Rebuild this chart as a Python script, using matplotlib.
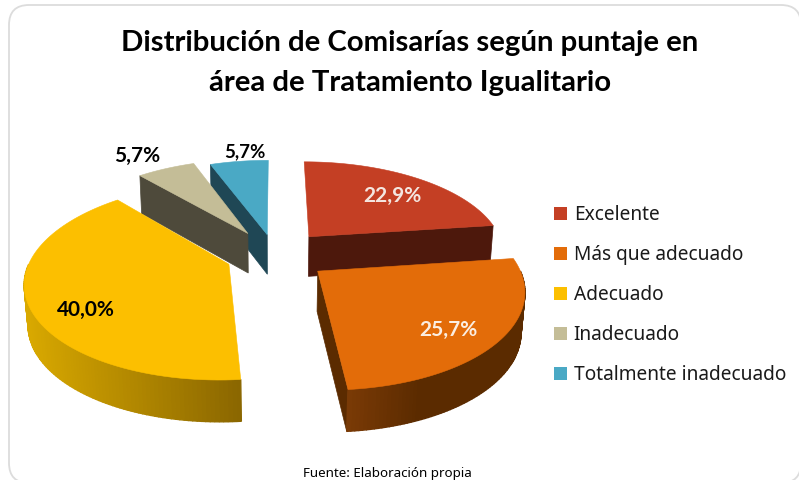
import numpy as np
import matplotlib
matplotlib.use('Agg')
import matplotlib.pyplot as plt
from matplotlib.patches import Patch, FancyBboxPatch

categories = ['Excelente', 'Más que adecuado', 'Adecuado', 'Inadecuado', 'Totalmente inadecuado']
values = [22.9, 25.7, 40.0, 5.7, 5.7]
value_labels = ['22,9%', '25,7%', '40,0%', '5,7%', '5,7%']
title = 'Distribución de Comisarías según puntaje en\nárea de Tratamiento Igualitario'
source = 'Fuente: Elaboración propia'

top_colors = ['#c43f24', '#e36c09', '#fcbf00', '#c4bd97', '#4aa9c5']
cut_colors = ['#4d180c', '#5b2b00', '#8a6600', '#4e4a3b', '#1f4755']
side_left = ['#4d180c', '#7a3a06', '#d9a900', '#4e4a3b', '#1f4755']
side_right = ['#4d180c', '#5b2b00', '#8a6600', '#4e4a3b', '#1f4755']
label_colors = ['#f4e6e0', '#fbeee2', 'black', 'black', 'black']
explode = [0.27, 0.27, 0.25, 0.28, 0.23]
label_r = [0.70, 0.78, 0.78, 1.27, 1.14]
label_da = [3, 5, -11, -3, 3]
label_size = [15, 15, 15, 15, 13.5]

# view of the pie, in pixels
cx, cy = 275, 255
R, Rk, p, H, q = 197, 93, 0.167, 40, 0.015


def project(X, Y, z=0.0):
    d = 1 + p * Y + q * z
    return cx + R * X / d, cy - Rk * Y / d + H * z / (1 + 0.5 * p * Y)


def fan(a0, a1, off, z=0.0, n=80):
    t = np.linspace(a0, a1, n)
    return project(off[0] + np.sin(t), off[1] + np.cos(t), z)


def cut_face(ang, off):
    x0, y0 = project(off[0], off[1], 0)
    x1, y1 = project(off[0] + np.sin(ang), off[1] + np.cos(ang), 0)
    x2, y2 = project(off[0] + np.sin(ang), off[1] + np.cos(ang), 1)
    x3, y3 = project(off[0], off[1], 1)
    return [x0, x1, x2, x3], [y0, y1, y2, y3]


fig = plt.figure(figsize=(7.99, 4.8), dpi=100)
ax = fig.add_axes([0, 0, 1, 1])
ax.set_xlim(0, 799)
ax.set_ylim(480, 0)
ax.axis('off')

ax.add_patch(FancyBboxPatch((9, 5), 792, 478, boxstyle='round,pad=0,rounding_size=20',
                            fc='white', ec='#dcdcdc', lw=1.3))

edges = np.cumsum([0] + values) / sum(values) * 2 * np.pi
mids = (edges[:-1] + edges[1:]) / 2
offs = [(e * np.sin(m), e * np.cos(m)) for e, m in zip(explode, mids)]

# back slices first so the front ones cover them
for i in [4, 3, 2, 0, 1]:
    a0, a1 = edges[i], edges[i + 1]
    off = offs[i]
    # cut faces that look to the viewer
    if i == 0 or i == 3 or i == 4:
        fx, fy = cut_face(a1 if i == 0 else a0, off)
        ax.fill(fx, fy, color=cut_colors[i], lw=0.5)
    if i == 1:
        fx, fy = cut_face(a1, off)
        ax.fill(fx, fy, color=cut_colors[i], lw=0.5)
    # outer wall, only the part that faces front
    lo, hi = max(a0, np.pi / 2), min(a1, 3 * np.pi / 2)
    if hi > lo:
        t = np.linspace(lo, hi, 90)
        xt, yt = project(off[0] + np.sin(t), off[1] + np.cos(t), 0)
        xb, yb = project(off[0] + np.sin(t), off[1] + np.cos(t), 1)
        c0 = np.array(matplotlib.colors.to_rgb(side_left[i]))
        c1 = np.array(matplotlib.colors.to_rgb(side_right[i]))
        for j in range(len(t) - 1):
            xm = (xt[j] + xt[j + 1]) / 2
            f = (xm - xt.min()) / (xt.max() - xt.min())
            if i == 1:
                f = min(f * 2.5, 1)
            ax.fill([xt[j], xt[j + 1], xb[j + 1], xb[j]], [yt[j], yt[j + 1], yb[j + 1], yb[j]],
                    color=c0 + (c1 - c0) * f, lw=1.0)
    # top
    x, y = fan(a0, a1, off)
    ax_, ay_ = project(off[0], off[1])
    ax.fill(np.r_[ax_, x], np.r_[ay_, y], color=top_colors[i], lw=0.4)

for i, lab in enumerate(value_labels):
    ang = mids[i] + np.radians(label_da[i])
    px, py = project(offs[i][0] + label_r[i] * np.sin(ang), offs[i][1] + label_r[i] * np.cos(ang))
    ax.text(px, py, lab, ha='center', va='center', family='Lato', weight='bold',
            fontsize=label_size[i], color=label_colors[i])

ax.text(410, 63, title, ha='center', va='center', family='Lato', weight='bold',
        fontsize=21.2, linespacing=1.65, color='black')
ax.text(387, 473, source, ha='center', va='center', family='Noto Sans', fontsize=9.6, color='black')

handles = [Patch(fc=c, ec='none') for c in top_colors]
ax.legend(handles, categories, loc='upper left', bbox_to_anchor=(554 / 799, 1 - 205 / 480),
          frameon=False, prop={'family': 'Noto Sans', 'size': 13.75}, labelcolor='#1a1a1a',
          handlelength=0.66, handleheight=0.66, handletextpad=0.37, labelspacing=1.05,
          borderpad=0, borderaxespad=0)

fig.savefig('out.png', dpi=100)
